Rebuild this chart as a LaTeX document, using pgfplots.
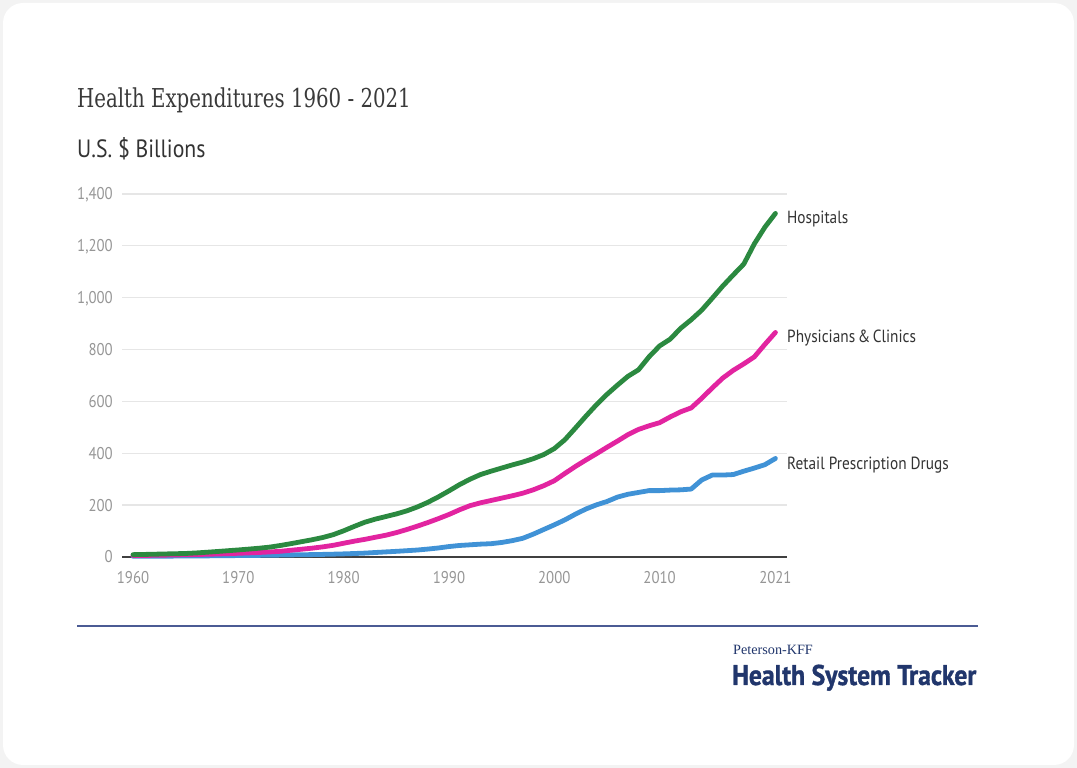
\documentclass[border=0pt]{standalone}
\usepackage{fontspec}
\setmainfont{PT Sans}[FakeStretch=0.87]
\newfontfamily\titlefont{DejaVu Serif}[FakeStretch=0.76]
\newfontfamily\pkfont{Liberation Serif}
\newfontfamily\logofont{PT Sans Bold}[FakeStretch=0.9, FakeBold=1.2]
\usepackage{pgfplots}
\usepackage{pgfplotstable}
\pgfplotsset{compat=1.18}
\definecolor{hosp}{RGB}{43,137,64}
\definecolor{phys}{RGB}{226,36,160}
\definecolor{drug}{RGB}{64,146,214}
\definecolor{bgc}{RGB}{243,243,243}
\definecolor{titlegray}{RGB}{58,58,58}
\definecolor{labgray}{RGB}{51,51,51}
\definecolor{tickgray}{RGB}{150,150,150}
\definecolor{gridgray}{RGB}{230,230,230}
\definecolor{navy}{RGB}{33,54,108}
\definecolor{linenavy}{RGB}{75,91,148}

\pgfplotstableread{
year val
1960 9.0
1961 9.8
1962 10.7
1963 11.7
1964 12.6
1965 13.6
1966 15.6
1967 18.3
1968 21.2
1969 24.2
1970 27.2
1971 30.5
1972 34.0
1973 38.2
1974 44.5
1975 51.5
1976 59.0
1977 66.5
1978 75.0
1979 86.0
1980 101
1981 118
1982 134
1983 146
1984 156
1985 166
1986 178
1987 193
1988 211
1989 232
1990 255
1991 279
1992 300
1993 318
1994 331
1995 343
1996 355
1997 366
1998 379
1999 395
2000 418
2001 452
2002 497
2003 543
2004 587
2005 627
2006 663
2007 697
2008 722
2009 772
2010 814
2011 840
2012 882
2013 915
2014 952
2015 998
2016 1045
2017 1088
2018 1130
2019 1208
2020 1272
2021 1325
}\hosptable

\pgfplotstableread{
year val
1960 5.6
1961 6.0
1962 6.5
1963 7.2
1964 7.8
1965 8.7
1966 9.5
1967 10.5
1968 11.5
1969 12.8
1970 14.3
1971 15.8
1972 17.5
1973 19.5
1974 22.0
1975 26.0
1976 30.0
1977 34.0
1978 39.0
1979 45.0
1980 53
1981 61
1982 68
1983 76
1984 84
1985 94
1986 106
1987 119
1988 133
1989 148
1990 164
1991 182
1992 198
1993 209
1994 218
1995 227
1996 236
1997 246
1998 259
1999 275
2000 294
2001 322
2002 349
2003 374
2004 398
2005 423
2006 447
2007 472
2008 492
2009 506
2010 518
2011 540
2012 560
2013 575
2014 612
2015 652
2016 690
2017 720
2018 745
2019 772
2020 820
2021 866
}\phystable

\pgfplotstableread{
year val
1960 2.7
1961 2.8
1962 3.0
1963 3.2
1964 3.5
1965 3.7
1966 4.0
1967 4.3
1968 4.7
1969 5.1
1970 5.5
1971 5.9
1972 6.3
1973 6.8
1974 7.4
1975 8.1
1976 8.7
1977 9.2
1978 10.0
1979 10.9
1980 12.0
1981 13.4
1982 15.0
1983 17.3
1984 19.6
1985 21.8
1986 24.3
1987 26.9
1988 30.6
1989 34.8
1990 40.3
1991 44.4
1992 47.0
1993 49.6
1994 51.3
1995 56
1996 63
1997 72
1998 88
1999 106
2000 124
2001 143
2002 165
2003 185
2004 201
2005 214
2006 231
2007 242
2008 249
2009 256
2010 256
2011 258
2012 259
2013 262
2014 297
2015 316
2016 316
2017 318
2018 331
2019 343
2020 356
2021 380
}\drugtable

\begin{document}
\begin{tikzpicture}
\fill[bgc] (0pt,0pt) rectangle (1077pt,768pt);
\fill[white, rounded corners=20pt] (3pt,3pt) rectangle (1074pt,765pt);

\begin{axis}[
  at={(122pt,211pt)}, anchor=south west,
  scale only axis, width=665pt, height=363pt,
  xmin=1958.95, xmax=2022.1, ymin=0, ymax=1400,
  axis line style={draw=none},
  tick style={draw=none},
  ytick={0,200,400,600,800,1000,1200,1400},
  yticklabels={0,200,400,600,800,{1,000},{1,200},{1,400}},
  xtick={1960,1970,1980,1990,2000,2010,2021},
  xticklabels={1960,1970,1980,1990,2000,2010,2021},
  ymajorgrids,
  grid style={gridgray, line width=1.3pt},
  yticklabel style={anchor=base east, inner sep=0pt, xshift=-9pt, yshift=-6pt, text=tickgray, font=\fontsize{17}{20}\selectfont},
  xticklabel style={anchor=base, inner sep=0pt, yshift=-27pt, text=tickgray, font=\fontsize{17}{20}\selectfont},
  clip=false,
]
\draw[black!75, line width=1.4pt] (rel axis cs:0,0) -- (rel axis cs:1,0);
\addplot[drug, line width=4.8pt, line join=round, line cap=round] table[x=year, y=val] {\drugtable};
\addplot[phys, line width=4.8pt, line join=round, line cap=round] table[x=year, y=val] {\phystable};
\addplot[hosp, line width=4.8pt, line join=round, line cap=round] table[x=year, y=val] {\hosptable};
\end{axis}

\node[anchor=base west, inner sep=0pt, text=labgray, font=\fontsize{17.6}{21}\selectfont] at (787pt,544.7pt) {Hospitals};
\node[anchor=base west, inner sep=0pt, text=labgray, font=\fontsize{17.6}{21}\selectfont] at (787pt,425.3pt) {Physicians \kern-1.5pt\&\kern-1.5pt{} Clinics};
\node[anchor=base west, inner sep=0pt, text=labgray, font=\fontsize{17.6}{21}\selectfont] at (787pt,298.7pt) {Retail Prescription Drugs};

\node[anchor=base west, inner sep=0pt, text=titlegray] at (77pt,660pt) {\titlefont\fontsize{26}{30}\selectfont Health Expenditures 1960 - 2021};
\node[anchor=base west, inner sep=0pt, text=labgray] at (77pt,610pt) {\fontsize{25}{30}\selectfont U.S. \$ Billions};

\draw[linenavy, line width=2pt] (77pt,142pt) -- (978pt,142pt);
\node[anchor=base west, inner sep=0pt, text=navy] at (733pt,113pt) {\pkfont\fontsize{14.2}{17}\selectfont Peterson-KFF};
\node[anchor=base west, inner sep=0pt, text=navy] at (732pt,83pt) {\logofont\fontsize{28.5}{32}\selectfont Health System Tracker};
\end{tikzpicture}
\end{document}
